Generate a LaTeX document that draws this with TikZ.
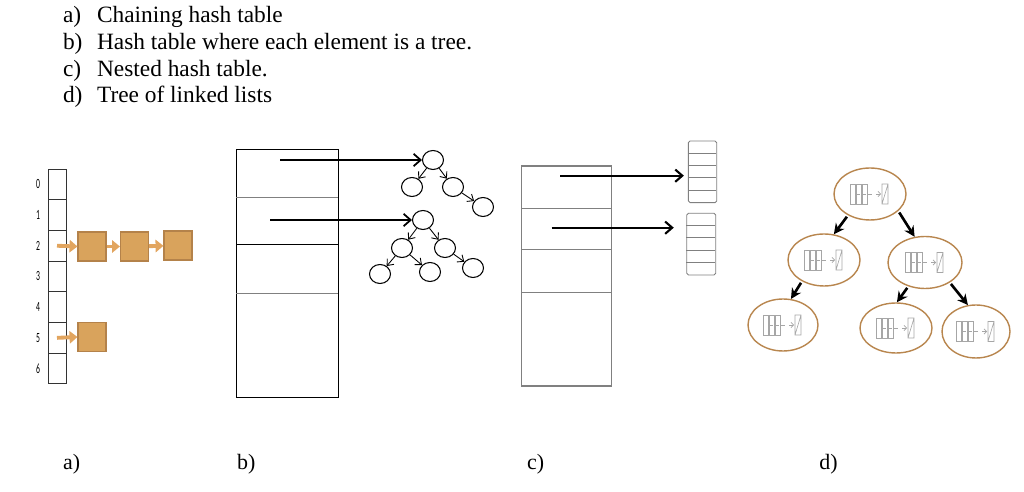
\documentclass[tikz,border=0pt]{standalone}
\usepackage{fontspec}
\setmainfont{Liberation Serif}
\newfontfamily\digitfont{Carlito}
\usetikzlibrary{shapes.geometric, arrows.meta, positioning}

\definecolor{boxfill}{HTML}{D9A35C}
\definecolor{boxline}{HTML}{B4824A}
\definecolor{boxarrow}{HTML}{E2A55F}
\definecolor{ringline}{HTML}{B8864E}

\tikzset{
	llist/.pic={
		\foreach \k in {0,1,2}
			\draw[icon] (-20+6*\k,-10) rectangle ++(5,20);
		\draw[icon] (-13,0) -- ++(3,0) (-7,0) -- ++(3,0);
		\draw[icon, densely dashed, -{Straight Barb[length=1.5pt]}] (-3,0) -- (11,0);
		\draw[icon] (12,-10) rectangle (18,10) (12,10) -- (18,-10);
	}
}

\begin{document}
\begin{tikzpicture}[x=0.02cm, y=-0.02cm,
	listtext/.style={font=\fontsize{13.3}{15}\selectfont, inner sep=0},
	caplabel/.style={font=\fontsize{12.5}{14}\selectfont, inner sep=0},
	digit/.style={font=\digitfont\fontsize{8}{9}\selectfont, xscale=0.55, inner sep=0},
	cell/.style={draw=black!80, line width=0.5pt, minimum width=0.36cm, minimum height=0.614cm, inner sep=0, outer sep=0},
	chainbox/.style={draw=boxline, fill=boxfill, line width=0.6pt, minimum width=0.56cm, minimum height=0.58cm, inner sep=0},
	chainarrow/.style={draw=boxarrow, line width=2.2pt, -{Triangle[length=4.5pt, width=7pt]}},
	treenode/.style={draw, ellipse, line width=0.6pt, minimum width=0.42cm, minimum height=0.38cm, inner sep=0},
	treearrow/.style={line width=0.5pt, -{Straight Barb[length=3pt, width=5pt]}},
	bigarrow/.style={line width=1pt, -{Straight Barb[length=4pt, width=7pt]}},
	subtab/.style={draw=gray, line width=0.5pt, rounded corners=1pt, inner sep=0},
	icon/.style={draw=gray!70, line width=0.35pt},
	ring/.style={draw=ringline, ellipse, line width=0.8pt, minimum width=1.44cm, minimum height=1.04cm, inner sep=0},
	ringarrow/.style={line width=1.5pt, shorten <=1pt, -{Stealth[length=6pt, width=6pt]}}]

	\useasboundingbox (0,0) rectangle (1024,492);

	% list of answers
	\foreach \k/\txt [count=\n from 0] in {a/Chaining hash table, b/Hash table where each element is a tree., c/Nested hash table., d/Tree of linked lists}{
		\node[listtext, anchor=base west] (key\k) at (62.7, 22.7+26.7*\n) {\k)};
		\node[listtext, anchor=base west] (txt\k) at (96.7, 22.7+26.7*\n) {\txt};
	}

	% a) chaining hash table
	\foreach \i in {0,...,6}{
		\node[cell] (cell\i) at (57, 184.35+30.7*\i) {};
		\node[digit] (num\i) at (38, 184.35+30.7*\i) {\i};
	}
	\node[chainbox] (ca1) at (92, 246.5) {};
	\node[chainbox] (ca2) at (134.5, 246.5) {};
	\node[chainbox] (ca3) at (178, 245.5) {};
	\node[chainbox] (cb1) at (92, 337) {};
	\draw[chainarrow] (cell2.center) -- (ca1.west);
	\draw[chainarrow] (ca1) -- (ca2);
	\draw[chainarrow] (ca2) -- (ca3);
	\draw[chainarrow] (cell5.center) -- (cb1.west);

	% b) hash table of trees
	\node[draw, line width=0.5pt, minimum width=2.026cm, minimum height=4.96cm, inner sep=0] (tabB) at (287.35, 273) {};
	\draw[gray, line width=0.5pt] (tabB.west |- 0,197) -- (tabB.east |- 0,197);
	\draw[line width=0.5pt] (tabB.west |- 0,244) -- (tabB.east |- 0,244);
	\draw[gray, line width=0.5pt] (tabB.west |- 0,293) -- (tabB.east |- 0,293);

	\node[treenode] (r1) at (433, 160) {};
	\node[treenode] (t1l) at (412, 187) {};
	\node[treenode] (t1r) at (453, 187) {};
	\node[treenode] (t1rr) at (483, 207) {};
	\node[treenode] (r2) at (423, 220) {};
	\node[treenode] (t2l) at (402, 248) {};
	\node[treenode] (t2r) at (445, 248) {};
	\node[treenode] (t2ll) at (380, 274) {};
	\node[treenode] (t2lr) at (430, 272) {};
	\node[treenode] (t2rr) at (473, 268) {};
	\foreach \a/\b in {r1/t1l, r1/t1r, t1r/t1rr, r2/t2l, r2/t2r, t2l/t2ll, t2l/t2lr, t2r/t2rr}
		\draw[treearrow] (\a) -- (\b);

	\coordinate (b1) at (280, 160);
	\coordinate (b2) at (270, 220);
	\draw[bigarrow] (b1) -- (r1.west);
	\draw[bigarrow] (b2) -- (r2.west);

	% c) nested hash table
	\node[draw=gray, line width=0.6pt, minimum width=1.8cm, minimum height=4.4cm, inner sep=0] (tabC) at (566.7, 276) {};
	\foreach \y in {208.3, 249, 292.3}
		\draw[gray, line width=0.5pt] (tabC.west |- 0,\y) -- (tabC.east |- 0,\y);

	\node[subtab, minimum width=0.568cm, minimum height=1.234cm] (sub1) at (702.5, 171.85) {};
	\node[subtab, minimum width=0.58cm, minimum height=1.234cm] (sub2) at (701.2, 244.15) {};
	\foreach \k in {1,...,4}{
		\draw[gray, line width=0.4pt] (sub1.north west) ++(0, 12.34*\k) -- ++(28.4, 0);
		\draw[gray, line width=0.4pt] (sub2.north west) ++(0, 12.34*\k) -- ++(29, 0);
	}

	\coordinate (c1) at (560, 175.7);
	\coordinate (c2) at (551.7, 227.7);
	\draw[bigarrow, line width=1.2pt, shorten >=0.08cm] (c1) -- (c1 -| sub1.west);
	\draw[bigarrow, line width=1.2pt, shorten >=0.25cm] (c2) -- (c2 -| sub2.west);

	% d) tree of linked lists
	\node[ring] (dRoot) at (870, 194) {};
	\node[ring] (dL) at (824, 260) {};
	\node[ring, minimum width=1.48cm] (dR) at (925, 262.5) {};
	\node[ring, minimum width=1.4cm] (dLL) at (783, 325) {};
	\node[ring, minimum height=1cm] (dRL) at (896, 328) {};
	\node[ring, minimum width=1.36cm, minimum height=1.06cm] (dRR) at (976, 331.5) {};
	\foreach \n in {dRoot, dL, dR, dLL, dRL, dRR}
		\pic at (\n) {llist};

	\draw[ringarrow] (dRoot.-136) -- (dL.69);
	\draw[ringarrow] (dRoot.-31) -- (dR.112);
	\draw[ringarrow] (dL.224) -- (dLL.73);
	\draw[ringarrow] (dR.235) -- (dRL.88);
	\draw[ringarrow] (dR.-39) -- (dRR.107);

	% captions
	\node[caplabel, anchor=base west] (capa) at (62.7, 470) {a)};
	\node[caplabel, anchor=base west] (capb) at (236.7, 470) {b)};
	\node[caplabel, anchor=base west] (capc) at (526.7, 470) {c)};
	\node[caplabel, anchor=base west] (capd) at (819, 470) {d)};
\end{tikzpicture}
\end{document}
